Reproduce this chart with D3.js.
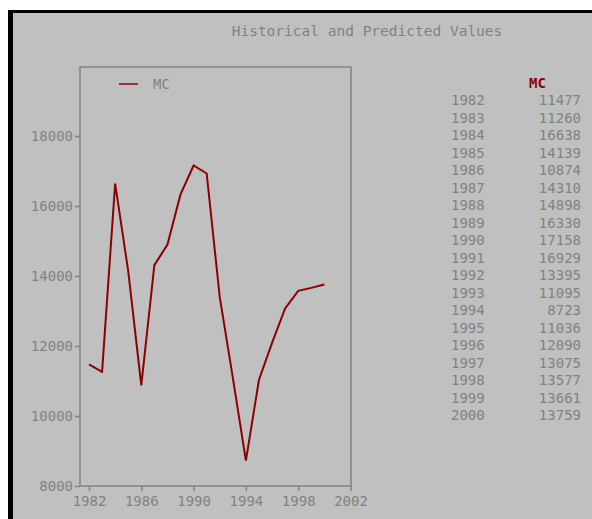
<!DOCTYPE html>
<html>
<head>
    <title>Historical and Predicted Values</title>
    <script src="https://d3js.org/d3.v7.min.js"></script>
    <style>
        body { margin: 0; background: #fff; }
        text { font-family: "DejaVu Sans Mono", monospace; }
    </style>
</head>
<body>
    <div id="chart"></div>

    <script>
        const years = [1982, 1983, 1984, 1985, 1986, 1987, 1988, 1989, 1990, 1991,
                       1992, 1993, 1994, 1995, 1996, 1997, 1998, 1999, 2000];
        const mc = [11477, 11260, 16638, 14139, 10874, 14310, 14898, 16330, 17158, 16929,
                    13395, 11095, 8723, 11036, 12090, 13075, 13577, 13661, 13759];
        const xTicks = [1982, 1986, 1990, 1994, 1998, 2002];
        const yTicks = [8000, 10000, 12000, 14000, 16000, 18000];
        const seriesName = "MC";

        const W = 592, H = 519;
        const grey = "#828282";
        const red = "#8b0000";

        const svg = d3.select("#chart").append("svg")
            .attr("width", W)
            .attr("height", H);

        // panel with black border on top and left
        svg.append("rect")
            .attr("x", 13).attr("y", 13)
            .attr("width", W - 13).attr("height", H - 13)
            .attr("fill", "#c0c0c0");
        svg.append("rect").attr("x", 8).attr("y", 10).attr("width", W - 8).attr("height", 3).attr("fill", "#000");
        svg.append("rect").attr("x", 8).attr("y", 10).attr("width", 5).attr("height", H - 10).attr("fill", "#000");

        svg.append("text")
            .attr("x", 367).attr("y", 36)
            .attr("text-anchor", "middle")
            .attr("fill", grey)
            .style("font-size", "14.5px")
            .text("Historical and Predicted Values");

        const plot = {left: 80, right: 351, top: 67, bottom: 486};

        const x = d3.scaleLinear()
            .domain([1982, 2002])
            .range([89, 350.5]);

        const y = d3.scaleLinear()
            .domain([8000, 20000])
            .range([plot.bottom, 66]);

        svg.append("rect")
            .attr("x", plot.left).attr("y", plot.top)
            .attr("width", plot.right - plot.left)
            .attr("height", plot.bottom - plot.top)
            .attr("fill", "none")
            .attr("stroke", grey)
            .attr("stroke-width", 1.5);

        const yAxis = svg.append("g")
            .attr("transform", "translate(" + plot.left + ",0)")
            .call(d3.axisLeft(y).tickValues(yTicks).tickFormat(d3.format("d")).tickSize(5).tickPadding(2));

        const xAxis = svg.append("g")
            .attr("transform", "translate(0," + plot.bottom + ")")
            .call(d3.axisBottom(x).tickValues(xTicks).tickFormat(d3.format("d")).tickSize(5).tickPadding(5));

        [xAxis, yAxis].forEach(g => {
            g.select(".domain").remove();
            g.selectAll("line").attr("stroke", grey).attr("stroke-width", 1.5);
            g.selectAll("text")
                .attr("fill", grey)
                .style("font-family", "'DejaVu Sans Mono', monospace")
                .style("font-size", "14px");
        });

        const line = d3.line()
            .x((d, i) => x(years[i]))
            .y(d => y(d));

        svg.append("path")
            .datum(mc)
            .attr("fill", "none")
            .attr("stroke", red)
            .attr("stroke-width", 2)
            .attr("stroke-linejoin", "miter")
            .attr("d", line);

        // legend
        svg.append("line")
            .attr("x1", 119).attr("x2", 138)
            .attr("y1", 84).attr("y2", 84)
            .attr("stroke", red).attr("stroke-width", 1.5);
        svg.append("text")
            .attr("x", 153).attr("y", 89)
            .attr("fill", grey)
            .style("font-size", "14px")
            .text(seriesName);

        // value table
        const rowY = d3.scaleLinear().domain([0, years.length - 1]).range([105, 420]);

        svg.append("text")
            .attr("x", 529).attr("y", 88)
            .attr("fill", red)
            .style("font-size", "14px")
            .style("font-weight", "bold")
            .text(seriesName);

        const rows = svg.append("g").selectAll("g")
            .data(years)
            .join("g")
            .attr("transform", (d, i) => "translate(0," + rowY(i) + ")");

        rows.append("text")
            .attr("x", 451)
            .attr("fill", grey)
            .style("font-size", "14px")
            .text(d => d);

        rows.append("text")
            .attr("x", 581)
            .attr("text-anchor", "end")
            .attr("fill", grey)
            .style("font-size", "14px")
            .text((d, i) => mc[i]);
    </script>
</body>
</html>
